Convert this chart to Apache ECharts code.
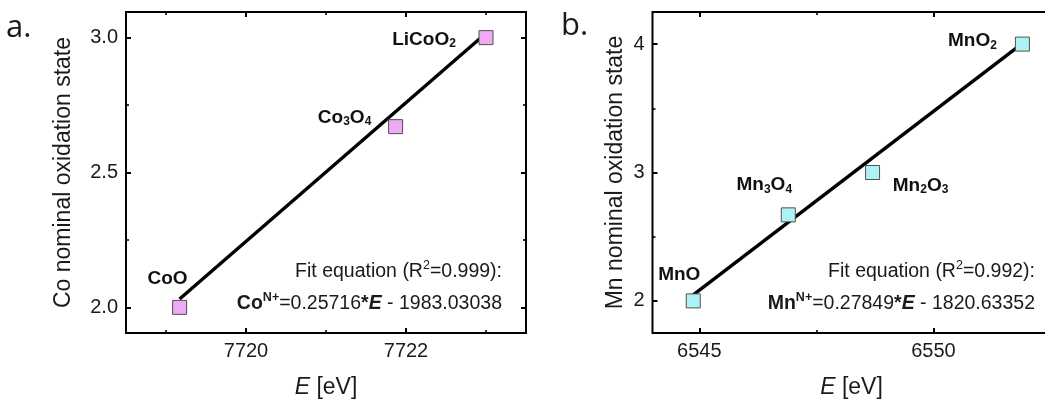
<!DOCTYPE html>
<html>
<head>
<meta charset="utf-8">
<script src="https://cdn.jsdelivr.net/npm/echarts@6/dist/echarts.min.js"></script>
<style>
  html, body { margin: 0; padding: 0; background: #fff; }
  #chart { width: 1045px; height: 399px; }
</style>
</head>
<body>
<div id="chart"></div>
<script>
// Co K-edge: reference compounds
const coCompounds = ['CoO', 'Co3O4', 'LiCoO2'];
const coEnergy = [7719.17, 7721.87, 7723.0];
const coState = [2, 2.67, 3];
const coFitSlope = 0.25716;
const coFitIntercept = -1983.03038;
const coFitR2 = '0.999';

// Mn K-edge: reference compounds
const mnCompounds = ['MnO', 'Mn3O4', 'Mn2O3', 'MnO2'];
const mnEnergy = [6544.87, 6546.90, 6548.70, 6551.90];
const mnState = [2, 2.67, 3, 4];
const mnFitSlope = 0.27849;
const mnFitIntercept = -1820.63352;
const mnFitR2 = '0.992';

// Axis ticks
const coEnergyTicks = [7720, 7722];
const coEnergyMinorTicks = [7719, 7721, 7723];
const coStateTicks = [2.0, 2.5, 3.0];
const coStateMinorTicks = [2.25, 2.75];
const mnEnergyTicks = [6545, 6550];
const mnEnergyMinorTicks = [6547.5];
const mnStateTicks = [2, 3, 4];
const mnStateMinorTicks = [2.5, 3.5];

const FONT = "'Liberation Sans', Arial, sans-serif";
const TXT = '#1a1a1a';

// label placement (text centre relative to marker centre)
const labelOffsets = {
  'CoO': [-12, -29],
  'Co3O4': [-51, -9],
  'LiCoO2': [-62, 2],
  'MnO': [-14, -26],
  'Mn3O4': [-24, -30],
  'Mn2O3': [48, 13],
  'MnO2': [-50, -3]
};

const sub = (name) => name.replace(/(\d)/g, '{s|$1}');

function axisSet(kind, gridIndex, min, max, majors, minors, fmt, nameCfg) {
  const isX = kind === 'x';
  const sides = isX ? ['bottom', 'top'] : ['left', 'right'];
  const axes = [];
  sides.forEach((pos, si) => {
    [majors, minors].forEach((vals, mi) => {
      const main = si === 0 && mi === 0;
      const ax = {
        type: 'value', gridIndex, min, max, position: pos,
        axisLine: { show: false },
        splitLine: { show: false },
        axisTick: {
          show: true, inside: true, length: mi === 0 ? 5 : 3,
          customValues: vals,
          lineStyle: { color: '#000', width: mi === 0 ? 2 : 1.6 }
        },
        axisLabel: main ? {
          show: true, customValues: vals, formatter: fmt, margin: 8,
          fontSize: 20, fontFamily: FONT, color: TXT
        } : { show: false }
      };
      if (main && nameCfg) Object.assign(ax, nameCfg);
      axes.push(ax);
    });
  });
  return axes;
}

const xName = (gap) => ({
  name: '{i|E} [eV]', nameLocation: 'middle', nameGap: gap,
  nameTextStyle: {
    fontSize: 23, fontFamily: FONT, color: TXT,
    rich: { i: { fontSize: 23, fontFamily: FONT, fontStyle: 'italic', color: TXT } }
  }
});
const yName = (text, gap) => ({
  name: text, nameLocation: 'middle', nameGap: gap,
  nameTextStyle: { fontSize: 23, fontFamily: FONT, color: TXT }
});

const xAxes = [].concat(
  axisSet('x', 0, 7718.5, 7723.5, coEnergyTicks, coEnergyMinorTicks, v => String(Math.round(v)), xName(43)),
  axisSet('x', 1, 6544, 6552.5, mnEnergyTicks, mnEnergyMinorTicks, v => String(Math.round(v)), xName(43))
);
const yAxes = [].concat(
  axisSet('y', 0, 1.905, 3.095, coStateTicks, coStateMinorTicks, v => v.toFixed(1), yName('Co nominal oxidation state', 51)),
  axisSet('y', 1, 1.75, 4.25, mnStateTicks, mnStateMinorTicks, v => String(v), yName('Mn nominal oxidation state', 25))
);

function pointData(names, xs, ys) {
  return names.map((n, i) => ({
    value: [xs[i], ys[i]],
    label: {
      show: true, position: 'inside', offset: labelOffsets[n],
      formatter: sub(n)
    }
  }));
}

// straight fit line between the first and last measured edge energies
function fitLine(xs, slope, intercept) {
  const e0 = xs[0], e1 = xs[xs.length - 1];
  return [[e0, slope * e0 + intercept], [e1, slope * e1 + intercept]];
}

const labelStyle = {
  fontSize: 19, fontWeight: 'bold', fontFamily: FONT, color: '#111',
  rich: {
    s: { fontSize: 12, fontWeight: 'bold', fontFamily: FONT, color: '#111', verticalAlign: 'bottom', padding: [0, 0, -1, 0] }
  }
};

function scatterSeries(idx, names, xs, ys, fill) {
  return {
    type: 'scatter', xAxisIndex: idx * 4, yAxisIndex: idx * 4,
    symbol: 'rect', symbolSize: 14, z: 5,
    itemStyle: { color: fill, borderColor: '#505050', borderWidth: 1, opacity: 1 },
    label: labelStyle,
    emphasis: { disabled: true },
    data: pointData(names, xs, ys)
  };
}

function lineSeries(idx, data) {
  return {
    type: 'line', xAxisIndex: idx * 4, yAxisIndex: idx * 4,
    showSymbol: false, symbol: 'none', z: 3,
    lineStyle: { color: '#000', width: 3.4 },
    emphasis: { disabled: true },
    data
  };
}

// regular / bold / bold-italic runs share a tall line box; superscripts sit at its top
const EQ_LH = 26;
const eqRich = {
  m: { fontSize: 19.5, fontFamily: FONT, fill: TXT, lineHeight: EQ_LH },
  b: { fontSize: 19.5, fontFamily: FONT, fontWeight: 'bold', fill: TXT, lineHeight: EQ_LH },
  bi: { fontSize: 19.5, fontFamily: FONT, fontWeight: 'bold', fontStyle: 'italic', fill: TXT, lineHeight: EQ_LH },
  sup: { fontSize: 12.5, fontFamily: FONT, fill: TXT, lineHeight: 13, verticalAlign: 'top' },
  bsup: { fontSize: 12.5, fontFamily: FONT, fontWeight: 'bold', fill: TXT, lineHeight: 13, verticalAlign: 'top' }
};

function equationText(x, el, slope, intercept, r2) {
  const common = { align: 'right', verticalAlign: 'middle', fontSize: 19.5, fontFamily: FONT, fill: TXT, rich: eqRich };
  return [
    { type: 'text', x, y: 272, z: 10,
      style: Object.assign({ text: '{m|Fit equation (R}{sup|2}{m|=' + r2 + '):}' }, common) },
    { type: 'text', x, y: 304, z: 10,
      style: Object.assign({
        text: '{b|' + el + '}{bsup|N+}{m|=' + slope.toFixed(5) + '}{b|*}{bi|E}{m| - ' + Math.abs(intercept).toFixed(5) + '}'
      }, common) }
  ];
}

const panelFont = { fontSize: 31, fontFamily: "'Open Sans', sans-serif", fill: TXT, verticalAlign: 'middle', align: 'left' };

const chart = echarts.init(document.getElementById('chart'), null, { renderer: 'canvas' });
chart.setOption({
  backgroundColor: '#fff',
  animation: false,
  grid: [
    { left: 126, top: 12, width: 400, height: 321, show: true, borderColor: '#000', borderWidth: 2, backgroundColor: 'transparent', containLabel: false, outerBoundsMode: 'none' },
    { left: 652.5, top: 12, width: 398, height: 321, show: true, borderColor: '#000', borderWidth: 2, backgroundColor: 'transparent', containLabel: false, outerBoundsMode: 'none' }
  ],
  xAxis: xAxes,
  yAxis: yAxes,
  series: [
    lineSeries(0, fitLine(coEnergy, coFitSlope, coFitIntercept)),
    scatterSeries(0, coCompounds, coEnergy, coState, '#EEABF4'),
    lineSeries(1, fitLine(mnEnergy, mnFitSlope, mnFitIntercept)),
    scatterSeries(1, mnCompounds, mnEnergy, mnState, '#AEF3F4')
  ],
  graphic: [
    { type: 'text', x: 6, y: 28, style: Object.assign({ text: 'a.' }, panelFont) },
    { type: 'text', x: 561, y: 26, style: Object.assign({ text: 'b.' }, panelFont) }
  ].concat(
    equationText(502, 'Co', coFitSlope, coFitIntercept, coFitR2),
    equationText(1035, 'Mn', mnFitSlope, mnFitIntercept, mnFitR2)
  )
});
</script>
</body>
</html>
